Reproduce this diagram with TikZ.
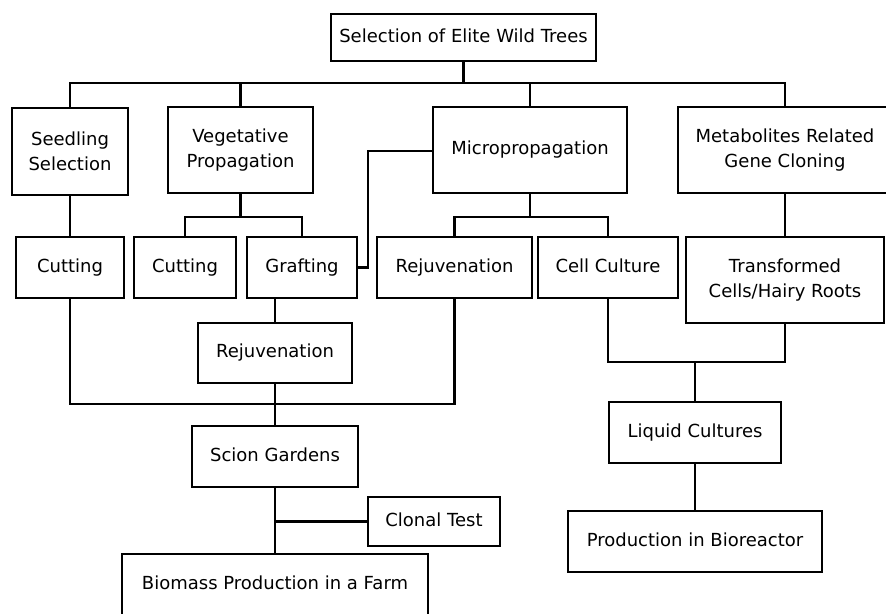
\documentclass[tikz,border=0pt]{standalone}
\usepackage{fontspec}
\setmainfont{DejaVu Sans}
\begin{document}
\begin{tikzpicture}[x=1pt,y=-1pt,
  box/.style={draw,line width=2.8pt,rectangle,inner sep=0pt,align=center,font=\fontsize{18}{25}\selectfont},
  oneline/.style={box,text height=13pt,text depth=4pt},
  link/.style={line width=2.8pt}]
\useasboundingbox (0,0) rectangle (886,613);
\clip (0,0) rectangle (886,613);
\node[oneline,minimum width=265pt,minimum height=47pt] (top) at (463.5,37.5) {Selection of Elite Wild Trees};
\node[box,minimum width=116pt,minimum height=87pt] (seed) at (70,151.5) {Seedling\\Selection};
\node[box,minimum width=145pt,minimum height=86pt] (veg) at (240.5,150) {Vegetative\\Propagation};
\node[oneline,minimum width=194pt,minimum height=86pt] (micro) at (530,150) {Micropropagation};
\node[box,minimum width=214pt,minimum height=86pt] (meta) at (785,150) {Metabolites Related\\Gene Cloning};
\node[oneline,minimum width=108pt,minimum height=61pt] (cut1) at (70,267.5) {Cutting};
\node[oneline,minimum width=102pt,minimum height=61pt] (cut2) at (185,267.5) {Cutting};
\node[oneline,minimum width=110pt,minimum height=61pt] (graft) at (302,267.5) {Grafting};
\node[oneline,minimum width=155pt,minimum height=61pt] (rejm) at (454.5,267.5) {Rejuvenation};
\node[oneline,minimum width=140pt,minimum height=61pt] (cell) at (608,267.5) {Cell Culture};
\node[box,minimum width=198pt,minimum height=86pt] (trans) at (785,280) {Transformed\\Cells/Hairy Roots};
\node[oneline,minimum width=154pt,minimum height=60pt] (rej) at (275,353) {Rejuvenation};
\node[oneline,minimum width=166pt,minimum height=61pt] (scion) at (275,456.5) {Scion Gardens};
\node[oneline,minimum width=132pt,minimum height=49pt] (clonal) at (434,521.5) {Clonal Test};
\node[oneline,minimum width=306pt,minimum height=62pt] (biomass) at (275,585) {Biomass Production in a Farm};
\node[oneline,minimum width=172pt,minimum height=61pt] (liquid) at (695,432.5) {Liquid Cultures};
\node[oneline,minimum width=254pt,minimum height=61pt] (bio) at (695,541.5) {Production in Bioreactor};
\coordinate (h1) at (0,83);
\coordinate (h2) at (0,217);
\coordinate (h3) at (0,404);
\coordinate (h4) at (0,362);
\coordinate (gk) at (368,151);
\draw[link] (top.south) -- (top.south |- h1);
\draw[link] (seed.north) -- (seed.north |- h1) -- (meta.north |- h1) -- (meta.north);
\draw[link] (veg.north) -- (veg.north |- h1);
\draw[link] (micro.north) -- (micro.north |- h1);
\draw[link] (seed.south) -- (cut1.north);
\draw[link] (veg.south) -- (veg.south |- h2);
\draw[link] (cut2.north) -- (cut2.north |- h2) -- (graft.north |- h2) -- (graft.north);
\draw[link] (micro.south) -- (micro.south |- h2);
\draw[link] (rejm.north) -- (rejm.north |- h2) -- (cell.north |- h2) -- (cell.north);
\draw[link] (meta.south) -- (trans.north);
\draw[link] (graft.east) -- (gk |- graft.east) -- (gk) -- (micro.west |- gk);
\draw[link] (rej.north |- graft.south) -- (rej.north);
\draw[link] (cut1.south) -- (cut1.south |- h3) -- (rejm.south |- h3) -- (rejm.south);
\draw[link] (rej.south) -- (scion.north);
\draw[link] (scion.south) -- (biomass.north);
\draw[link] (scion.south |- clonal.west) -- (clonal.west);
\draw[link] (cell.south) -- (cell.south |- h4) -- (trans.south |- h4) -- (trans.south);
\draw[link] (liquid.north) -- (liquid.north |- h4);
\draw[link] (liquid.south) -- (bio.north);
\end{tikzpicture}
\end{document}
